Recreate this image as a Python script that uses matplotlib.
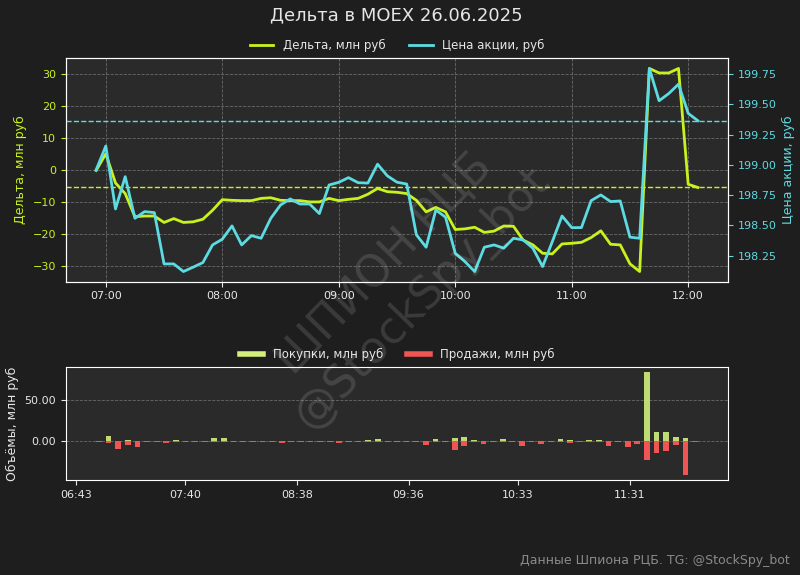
import numpy as np
import pandas as pd
import matplotlib
matplotlib.use('Agg')
import matplotlib.pyplot as plt
import matplotlib.dates as mdates
from matplotlib.lines import Line2D
from matplotlib.ticker import MultipleLocator, FormatStrFormatter

# 5-minute slots 06:55 .. 12:05
times = pd.date_range('2025-06-26 06:55', '2025-06-26 12:05', freq='5min')

delta = [-0.2, 5.0, -4.1, -7.4, -14.6, -14.4, -14.4, -16.4, -15.2, -16.4,
         -16.2, -15.4, -12.6, -9.3, -9.5, -9.6, -9.6, -8.9, -8.7, -9.5,
         -9.6, -9.6, -10.0, -10.0, -8.9, -9.6, -9.2, -8.9, -7.6, -5.8,
         -6.8, -7.0, -7.4, -9.5, -13.1, -11.7, -13.1, -18.6, -18.4, -17.9,
         -19.5, -19.1, -17.5, -17.6, -21.9, -23.4, -26.0, -26.2, -23.1, -22.9,
         -22.6, -21.1, -19.0, -23.2, -23.4, -29.3, -31.7, 31.6, 30.2, 30.2,
         31.6, -4.5, -5.5]

price = [198.958, 199.156, 198.636, 198.903, 198.559, 198.614, 198.606, 198.182, 198.182, 198.119,
         198.155, 198.193, 198.339, 198.386, 198.496, 198.339, 198.416, 198.394, 198.559, 198.669,
         198.719, 198.677, 198.677, 198.598, 198.834, 198.856, 198.895, 198.853, 198.850, 199.006,
         198.910, 198.857, 198.842, 198.422, 198.320, 198.628, 198.568, 198.270, 198.201, 198.119,
         198.320, 198.339, 198.312, 198.394, 198.380, 198.312, 198.160, 198.366, 198.578, 198.482,
         198.482, 198.705, 198.752, 198.697, 198.702, 198.403, 198.394, 199.797, 199.530, 199.590,
         199.667, 199.426, 199.365]

buys = [0, 7, 0.5, 1.5, 0, 0, 0, 0, 1.2, 0,
        1, 0, 4, 4, 0, 0, 0, 1, 0, 1,
        0, 0, 0, 0, 1, 1, 0, 0, 2, 2.5,
        0, 0, 0, 0, 0, 2.5, 0, 4.4, 5.2, 2,
        1, 0, 3.2, 0, 1, 0, 0, 0, 3.2, 1.5,
        0, 2, 2, 0, 0, 0, 0, 85, 12, 11,
        5.2, 4.4, 0]

sells = [1, 2, 9.2, 4, 6.8, 1, 1, 2, 1, 1,
         1, 1, 1, 1, 1, 1, 1, 1, 1, 1.5,
         1, 1, 1, 1, 1, 2.5, 1, 1, 1, 1,
         1, 1, 1, 1, 4.8, 1, 1, 10.8, 5.6, 1,
         3.6, 1, 1, 1, 5.6, 1, 3.6, 1, 1, 2.5,
         1, 1, 1, 5.2, 1, 6.4, 2.8, 22.9, 13.7, 11.2,
         4, 41, 1]

vol_ticks = ['06:43', '07:40', '08:38', '09:36', '10:33', '11:31']

bg = '#1e1e1e'
ax_bg = '#2a2a2a'
c_delta = '#c8f21e'
c_price = '#5cdbe2'
c_buy = '#d2ef7c'
c_sell = '#f05555'
txt = '#e6e6e6'
grid_c = '#6a6a6a'

fig = plt.figure(figsize=(8, 5.75), dpi=100, facecolor=bg)

# ---- top: delta + price
ax1 = fig.add_axes([0.0825, 0.5101, 0.8275, 0.3885], facecolor=ax_bg)
l1, = ax1.plot(times, delta, color=c_delta, lw=2, label='Дельта, млн руб')
ax1.axhline(delta[-1], color=c_delta, ls='--', lw=1)
ax1.grid(True, color=grid_c, ls='--', lw=0.6)
ax1.set_ylabel('Дельта, млн руб', color=c_delta, fontsize=9)
ax1.tick_params(axis='y', colors=c_delta, labelsize=8)
ax1.tick_params(axis='x', colors=txt, labelsize=8)
ax1.xaxis.set_major_locator(mdates.HourLocator())
ax1.xaxis.set_major_formatter(mdates.DateFormatter('%H:%M'))

ax2 = ax1.twinx()
l2, = ax2.plot(times, price, color=c_price, lw=2, label='Цена акции, руб')
ax2.axhline(price[-1], color=c_price, ls='--', lw=1)
ax2.set_ylabel('Цена акции, руб', color=c_price, fontsize=9)
ax2.tick_params(axis='y', colors=c_price, labelsize=8)
ax2.yaxis.set_major_locator(MultipleLocator(0.25))
ax2.yaxis.set_major_formatter(FormatStrFormatter('%.2f'))

for ax in (ax1, ax2):
    for s in ax.spines.values():
        s.set_color('white')

leg = ax2.legend(handles=[l1, l2], loc='lower center', bbox_to_anchor=(0.5, 1.0),
                 ncol=2, frameon=False, fontsize=8.5, borderaxespad=0.1)
for t in leg.get_texts():
    t.set_color(txt)

# ---- bottom: volumes
ax3 = fig.add_axes([0.0825, 0.1652, 0.8275, 0.197], facecolor=ax_bg)
w = 3 / 1440
ax3.bar(times, buys, width=w, color=c_buy, alpha=0.9)
ax3.bar(times, [-v for v in sells], width=w, color=c_sell)
ax3.grid(True, axis='y', color=grid_c, ls='--', lw=0.6)
ax3.set_axisbelow(True)
ax3.yaxis.set_major_locator(MultipleLocator(50))
ax3.yaxis.set_major_formatter(FormatStrFormatter('%.2f'))
ax3.set_xticks([pd.Timestamp('2025-06-26 ' + t) for t in vol_ticks])
ax3.set_xticklabels(vol_ticks)
ax3.tick_params(colors=txt, labelsize=8)
ax3.set_ylabel('Объёмы, млн руб', color=txt, fontsize=9)
for s in ax3.spines.values():
    s.set_color('white')

h_buy = Line2D([], [], color=c_buy, lw=4)
h_sell = Line2D([], [], color=c_sell, lw=4)
leg2 = ax3.legend([h_buy, h_sell], ['Покупки, млн руб', 'Продажи, млн руб'],
                  loc='lower center', bbox_to_anchor=(0.5, 1.0), ncol=2,
                  frameon=False, fontsize=8.5, borderaxespad=0.1)
for t in leg2.get_texts():
    t.set_color(txt)

fig.text(0.495, 0.974, 'Дельта в MOEX 26.06.2025', ha='center', va='center',
         fontsize=13, color=txt)
fig.text(0.9875, 0.026, 'Данные Шпиона РЦБ. TG: @StockSpy_bot', ha='right',
         va='center', fontsize=9, color='#8a8a8a')
fig.text(0.505, 0.51, 'ШПИОН РЦБ\n@StockSpy_bot', ha='center', va='center',
         rotation=46, fontsize=32, color='white', alpha=0.13,
         multialignment='center')

fig.savefig('out.png', dpi=100, facecolor=bg)
